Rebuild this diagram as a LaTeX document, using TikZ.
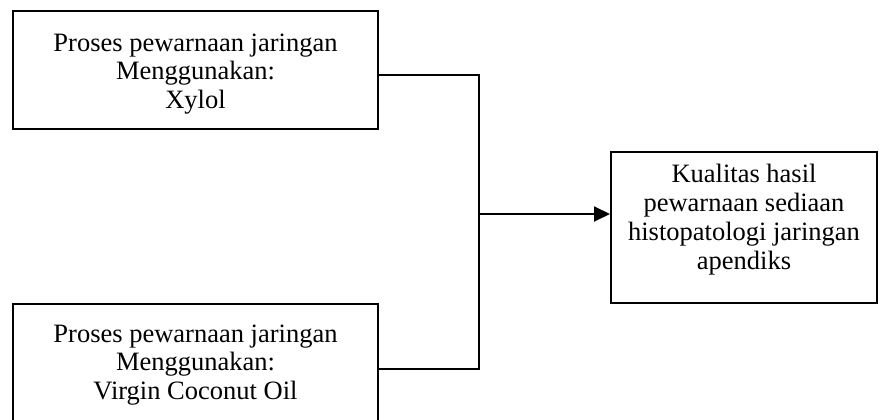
\documentclass[tikz,border=0pt]{standalone}
\usepackage{fontspec}
\setmainfont{Liberation Serif}
\usetikzlibrary{arrows.meta}
\begin{document}
\begin{tikzpicture}[x=1pt,y=-1pt,
  box/.style={draw=black,line width=2pt,minimum width=365pt,minimum height=118pt,inner sep=0pt},
  txt/.style={align=center,font=\fontsize{26.5}{28.5}\selectfont,inner sep=0pt},
  conn/.style={draw=black,line width=2pt}]
\useasboundingbox (0,0) rectangle (879,420);
\clip (0,0) rectangle (879,420);
\node[box] (a) at (195.5,70) {};
\node[txt] (at) at (195.5,74) {Proses pewarnaan jaringan\\Menggunakan:\\Xylol};
\node[box] (b) at (195.5,363) {};
\node[txt] (bt) at (195.5,365) {Proses pewarnaan jaringan\\Menggunakan:\\Virgin Coconut Oil};
\node[box,minimum width=266pt,minimum height=151pt] (r) at (744,227.5) {};
\node[txt,font=\fontsize{26.5}{29}\selectfont] (rt) at (744,220) {Kualitas hasil\\pewarnaan sediaan\\histopatologi jaringan\\apendiks};
\coordinate (j) at (479,214);
\draw[conn] ([yshift=-5pt]a.east) -| (j);
\draw[conn] ([yshift=-6pt]b.east) -| (j);
\draw[conn,-{Triangle[length=16pt,width=15pt]}] (j) -- (r.west |- j);
\end{tikzpicture}
\end{document}
